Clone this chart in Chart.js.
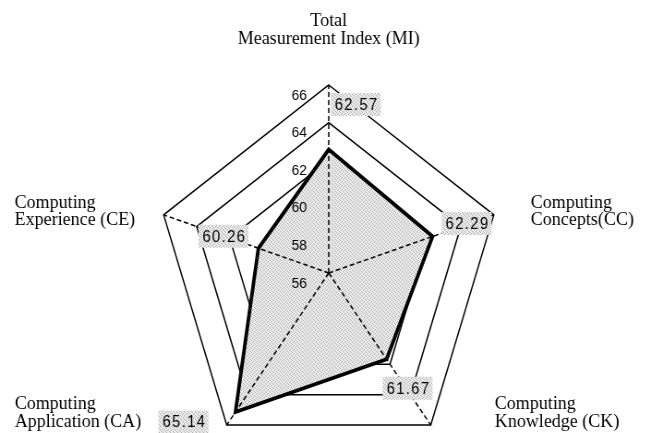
<!DOCTYPE html>
<html>
<head>
<meta charset="utf-8">
<script src="https://cdn.jsdelivr.net/npm/chart.js@4.4.0/dist/chart.umd.min.js"></script>
<style>
  html, body { margin: 0; padding: 0; background: #fff; overflow: hidden; }
  /* the original picture is a bit narrower than tall, so squeeze the canvas */
  #wrap { width: 705px; height: 480px; transform: scaleX(0.9234); transform-origin: 0 0; }
</style>
</head>
<body>
<div id="wrap"><canvas id="radar" width="705" height="480"></canvas></div>
<script>
const SX = 0.9234;

// axis names, two lines each
const axisNames = [
  ['Total', 'Measurement Index (MI)'],
  ['Computing', 'Concepts(CC)'],
  ['Computing', 'Knowledge (CK)'],
  ['Computing', 'Application (CA)'],
  ['Computing', 'Experience (CE)']
];
const scores = [62.57, 62.29, 61.67, 65.14, 60.26];
const scoreLabels = ['62.57', '62.29', '61.67', '65.14', '60.26'];
const tickValues = [56, 58, 60, 62, 64, 66];

// where the texts sit (screen px, relative to outer vertex / data point)
const nameLayout = [
  { align: 'center', dx: 0, dy: -59 },
  { align: 'left', dx: 37, dy: -7 },
  { align: 'left', dx: 64, dy: -16 },
  { align: 'left', dx: -212, dy: -16 },
  { align: 'left', dx: -149, dy: -7 }
];
const boxOffsets = [[27, -45], [34, -13], [21, 29], [-52, 10], [-35, -12]];

const ctx = document.getElementById('radar').getContext('2d');

// gray stipple like the old excel fill
function makeStipple() {
  const c = document.createElement('canvas');
  c.width = 4; c.height = 4;
  const g = c.getContext('2d');
  g.fillStyle = '#ececec';
  g.fillRect(0, 0, 4, 4);
  g.fillStyle = '#b0b0b0';
  g.fillRect(0, 0, 1, 1);
  g.fillRect(2, 1, 1, 1);
  g.fillRect(1, 2, 1, 1);
  g.fillRect(3, 3, 1, 1);
  return ctx.createPattern(c, 'repeat');
}
const stipple = makeStipple();

const labelPlugin = {
  id: 'labelPlugin',
  afterDatasetDraw(chart, args) {
    // dashed axis lines go over the fill but under the thick outline
    if (args.index !== 1) return;
    const r = chart.scales.r;
    const c = chart.ctx;
    c.save();
    c.strokeStyle = '#000';
    c.lineWidth = 1.5;
    c.setLineDash([5, 3]);
    for (let i = 0; i < axisNames.length; i++) {
      const p = r.getPointPosition(i, r.drawingArea);
      c.beginPath();
      c.moveTo(r.xCenter, r.yCenter);
      c.lineTo(p.x, p.y);
      c.stroke();
    }
    c.restore();
  },
  afterDraw(chart) {
    const r = chart.scales.r;
    const c = chart.ctx;
    c.save();
    c.fillStyle = '#000';

    // tick numbers, left of the top axis
    c.font = '15px "Liberation Sans", Arial, sans-serif';
    c.textAlign = 'center';
    c.textBaseline = 'middle';
    r.ticks.forEach(t => {
      const d = r.getDistanceFromCenterForValue(t.value);
      c.fillText(String(t.value), r.xCenter - 32, r.yCenter - d + 10.5);
    });

    // axis names
    c.font = '19.5px "Liberation Serif", "Times New Roman", serif';
    c.textBaseline = 'alphabetic';
    axisNames.forEach((lines, i) => {
      const p = r.getPointPosition(i, r.drawingArea);
      const lay = nameLayout[i];
      c.textAlign = lay.align;
      lines.forEach((txt, k) => {
        c.fillText(txt, p.x + lay.dx / SX, p.y + lay.dy + k * 17.5);
      });
    });

    // value boxes
    c.font = '16px "Liberation Sans", Arial, sans-serif';
    c.textAlign = 'center';
    c.textBaseline = 'middle';
    if ('letterSpacing' in c) c.letterSpacing = '1.5px';
    scores.forEach((v, i) => {
      const p = r.getPointPosition(i, r.getDistanceFromCenterForValue(v));
      const x = p.x + boxOffsets[i][0] / SX;
      const y = p.y + boxOffsets[i][1];
      const w = 50 / SX, h = 23;
      c.fillStyle = stipple;
      c.fillRect(x - w / 2, y - h / 2, w, h);
      c.fillStyle = '#000';
      c.fillText(scoreLabels[i], x + 1, y + 1);
    });
    c.restore();
  }
};

new Chart(ctx, {
  type: 'radar',
  data: {
    labels: axisNames,
    datasets: [
      {
        data: scores,
        fill: false,
        borderColor: '#000',
        borderWidth: 3.8,
        borderJoinStyle: 'miter',
        pointRadius: 0
      },
      {
        data: scores,
        fill: true,
        backgroundColor: stipple,
        borderWidth: 0,
        pointRadius: 0
      }
    ]
  },
  options: {
    responsive: false,
    animation: false,
    layout: { padding: { top: 85, left: 168, right: 161, bottom: 19 } },
    plugins: { legend: { display: false }, tooltip: { enabled: false } },
    scales: {
      r: {
        min: 56,
        max: 66,
        startAngle: 0,
        ticks: { display: false, stepSize: 2 },
        pointLabels: { display: false },
        grid: { circular: false, color: '#000', lineWidth: 1.5 },
        angleLines: { display: false }
      }
    }
  },
  plugins: [labelPlugin]
});
</script>
</body>
</html>
